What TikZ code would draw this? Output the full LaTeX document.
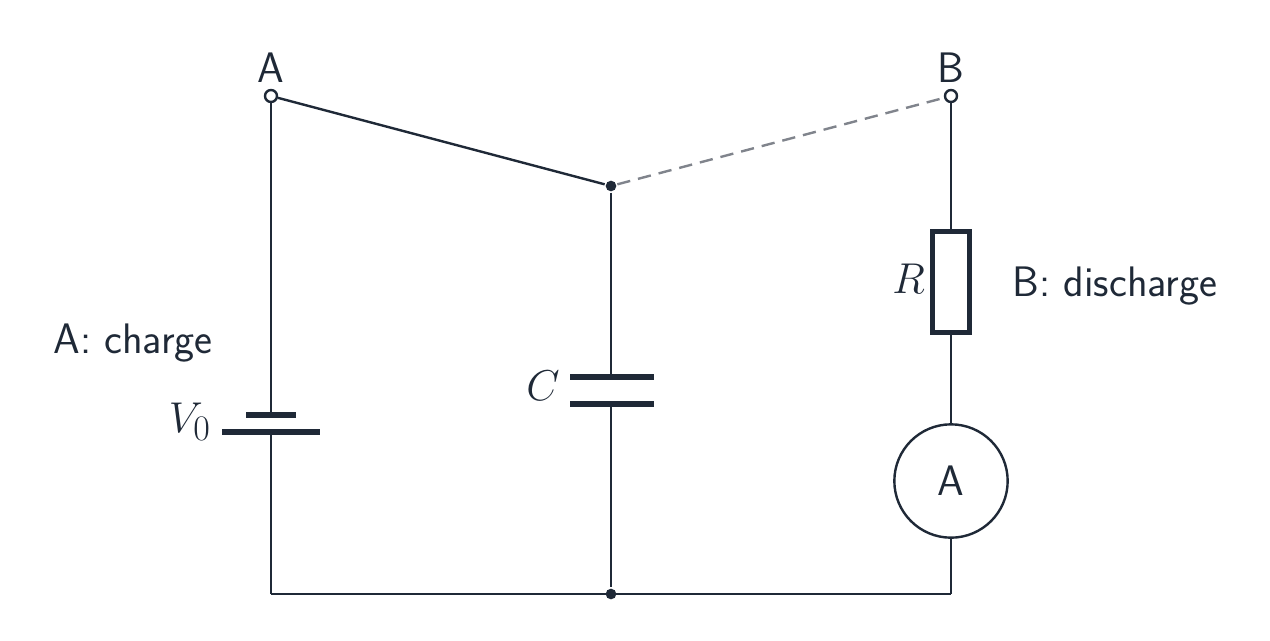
\documentclass[tikz,border=0pt]{standalone}
\usepackage{graphicx}
\usepackage{xcolor,amsmath}
\definecolor{wire}{HTML}{1F2937}
\definecolor{swgray}{HTML}{80848C}
\newcommand{\bigmath}[1]{\scalebox{1.3}{$#1$}}
\begin{document}
\begin{tikzpicture}[x=0.75pt,y=0.75pt,yscale=-1,xscale=1,
  line width=1.8pt,
  plate/.style={line width=3.8pt},
  lbl/.style={text=wire,inner sep=0pt,font=\fontsize{32}{38}\selectfont\sffamily},
  mlbl/.style={text=wire,inner sep=0pt,font=\fontsize{24.88}{30}\selectfont},
  term/.style={circle,draw=wire,fill=white,line width=1.8pt,minimum size=9pt,inner sep=0pt},
  dot/.style={circle,fill=wire,inner sep=0pt,minimum size=8pt}]
\useasboundingbox (0,0) rectangle (1270,640);

% terminals and switch
\node[term] (A) at (271,96) {};
\node[term] (B) at (951,96) {};
\node[dot] (P) at (611,186) {};
\node[lbl] at (271,68) {A};
\node[lbl] at (951,68) {B};
\draw[wire] (A) -- (P);
\draw[swgray,dash pattern=on 10pt off 6pt] (P) -- (B);

% left branch: source
\coordinate (bs) at (271,415);
\coordinate (bl) at (271,432);
\coordinate (bl0) at (271,594);
\draw[wire] (A) -- (bs);
\draw[wire,plate] (246,415) -- (296,415);
\draw[wire,plate] (222,432) -- (320,432);
\draw[wire] (bl) -- (bl0);
\node[mlbl,anchor=east] at (212,422) {\bigmath{V_0}};
\node[lbl] at (133,343) {A: charge};

% middle branch: capacitor
\coordinate (c1) at (611,377);
\coordinate (c2) at (611,404);
\node[dot] (Q) at (611,594) {};
\draw[wire] (P) -- (c1);
\draw[wire,plate] (570,377) -- (654,377);
\draw[wire,plate] (570,404) -- (654,404);
\draw[wire] (c2) -- (Q);
\node[mlbl,anchor=east] at (561,386) {\bigmath{C}};

% right branch: resistor and ammeter
\node[draw=wire,line width=3.6pt,minimum width=28pt,minimum height=76pt,inner sep=0pt] (R) at (951,282) {};
\node[circle,draw=wire,line width=1.8pt,minimum size=85pt,inner sep=0pt,text=wire,font=\fontsize{32}{38}\selectfont\sffamily] (M) at (951,481) {A};
\coordinate (br) at (951,594);
\draw[wire] (B) -- (R);
\draw[wire] (R) -- (M);
\draw[wire] (M) -- (br);
\node[mlbl,anchor=east] at (926,279) {\bigmath{R}};
\node[lbl] at (1115,286) {B: discharge};

% bottom wire
\draw[wire] (bl0) -- (br);
\end{tikzpicture}
\end{document}
